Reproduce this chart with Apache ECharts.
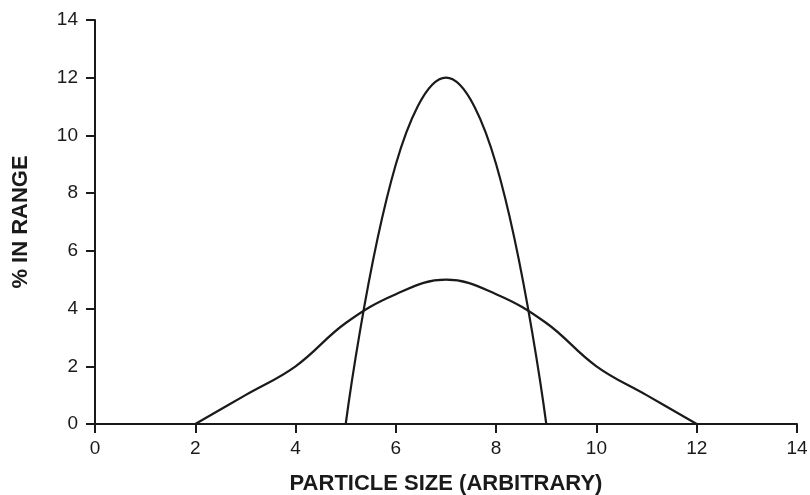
<!DOCTYPE html>
<html><head><meta charset="utf-8">
<script src="https://cdn.jsdelivr.net/npm/echarts@6/dist/echarts.min.js"></script>
<style>html,body{margin:0;padding:0;background:#fff}#c{width:810px;height:495px}</style>
</head><body><div id="c"></div>
<script>
const wideX = [2,3,4,5,6,7,8,9,10,11,12];
const wideY = [0,1,2,3.5,4.5,5,4.5,3.5,2,1,0];
const narrowX = [5,6,7,8,9];
const narrowY = [0,9,12,9,0];
const xTitle = 'PARTICLE SIZE (ARBITRARY)';
const yTitle = '% IN RANGE';

const pair = (xs, ys) => xs.map((x,i)=>[x, ys[i]]);
const ink = '#1a1a1a';
const font = 'Liberation Sans';
function axis(extra, margin){
  return Object.assign({
    type:'value',min:0,max:14,interval:2,nameLocation:'middle',
    axisLine:{show:true,lineStyle:{color:ink,width:2}},
    axisTick:{show:true,inside:false,length:9,lineStyle:{color:ink,width:2}},
    splitLine:{show:false},
    axisLabel:{color:ink,fontFamily:font,fontSize:19,margin:margin},
    nameTextStyle:{color:ink,fontFamily:font,fontSize:22,fontWeight:'bold'}
  }, extra);
}
const chart = echarts.init(document.getElementById('c'));
chart.setOption({
  animation:false,
  backgroundColor:'#fff',
  grid:{left:95,right:13,top:20,bottom:71,containLabel:false,outerBoundsMode:'none'},
  xAxis:axis({name:xTitle,nameGap:49},15),
  yAxis:axis({name:yTitle,nameGap:63},17),
  series:[
    {type:'line',data:pair(wideX,wideY),smooth:0.4,symbol:'none',lineStyle:{color:ink,width:2.2},z:3},
    {type:'line',data:pair(narrowX,narrowY),smooth:0.4,symbol:'none',lineStyle:{color:ink,width:2.2},z:3}
  ]
});
</script></body></html>
